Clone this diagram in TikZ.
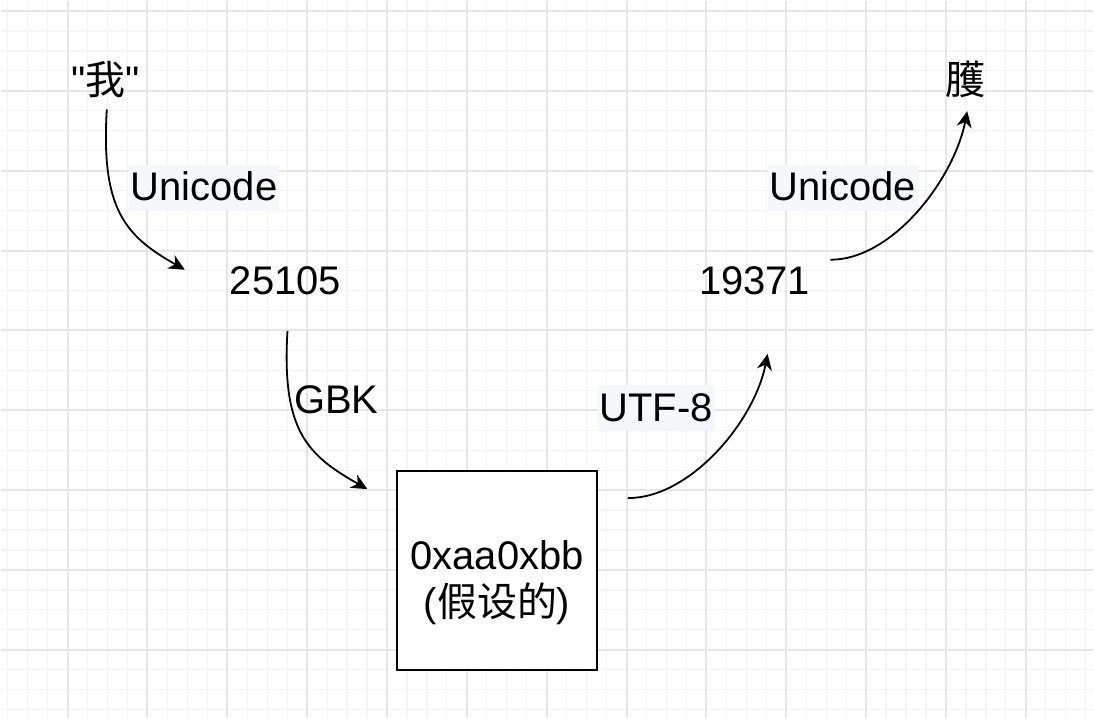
\documentclass[tikz,border=0pt]{standalone}
\usepackage{fontspec}
\setmainfont{Liberation Sans}
\newfontfamily\cjk{Noto Sans CJK SC}
\usetikzlibrary{arrows.meta}
\definecolor{gridminor}{HTML}{F4F4F4}
\definecolor{gridmajor}{HTML}{E6E6E6}
\definecolor{lblbg}{HTML}{F5F7FA}

\begin{document}
\begin{tikzpicture}[x=1pt, y=-1pt, >={Stealth[length=16pt, width=15pt, inset=5pt]},
    every node/.style={font=\fontsize{40pt}{47pt}\selectfont, inner sep=0pt},
    txt/.style={anchor=base},
    lbl/.style={fill=lblbg, text height=33pt, text depth=6pt, inner xsep=2pt, inner ysep=3pt},
    bytebox/.style={draw, line width=2pt, fill=white, minimum width=200pt, minimum height=199pt, align=center, text height=96pt, text depth=3pt},
    conv/.style={->, line width=1.8pt}]

  % background grid
  \fill[white] (0,0) rectangle (1094,718);
  \foreach \i in {0,...,54} \draw[gridminor, line width=1.2pt] (6.7+20*\i,0) -- (6.7+20*\i,718);
  \foreach \i in {0,...,35} \draw[gridminor, line width=1.2pt] (0,10+20*\i) -- (1094,10+20*\i);
  \foreach \i in {0,...,12} \draw[gridmajor, line width=2pt] (66.7+80*\i,0) -- (66.7+80*\i,718);
  \foreach \i in {0,...,8} \draw[gridmajor, line width=2pt] (0,10+80*\i) -- (1094,10+80*\i);
  \useasboundingbox (0,0) rectangle (1094,718);

  \node[txt] (wo) at (105,94) {\textquotedbl{\cjk 我}\textquotedbl};
  \node[txt] (cp) at (285,294) {25105};
  \node[bytebox] (bytes) at (497,570.5) {0xaa0xbb\\({\cjk 假设的})};
  \node[txt] (cpnew) at (755,294) {19371};
  \node[txt] (huo) at (966,94) {{\cjk 臒}};

  \node[lbl] (uni1) at (203.5,186.5) {Unicode};
  \node[txt] (gbk) at (336,413) {GBK};
  \node[lbl] (utf8) at (656.5,407.5) {UTF-8};
  \node[lbl] (uni2) at (843.5,186.5) {Unicode};

  \draw[conv] ([xshift=1pt, yshift=-11pt]wo.south) .. controls +(-6,100) and +(-60,-34) .. ([xshift=-45pt, yshift=11pt]cp.west);
  \draw[conv] ([xshift=2pt, yshift=-36pt]cp.south) .. controls +(-6,100) and +(-60,-34) .. ([xshift=-29pt, yshift=-19pt]bytes.north west);
  \draw[conv] ([xshift=30pt, yshift=-28pt]bytes.north east) .. controls +(63,0) and +(-13,67) .. ([xshift=13pt, yshift=-59pt]cpnew.south);
  \draw[conv] ([xshift=20pt, yshift=21pt]cpnew.east) .. controls +(63,0) and +(-13,67) .. ([xshift=2pt, yshift=-13pt]huo.south);
\end{tikzpicture}
\end{document}
